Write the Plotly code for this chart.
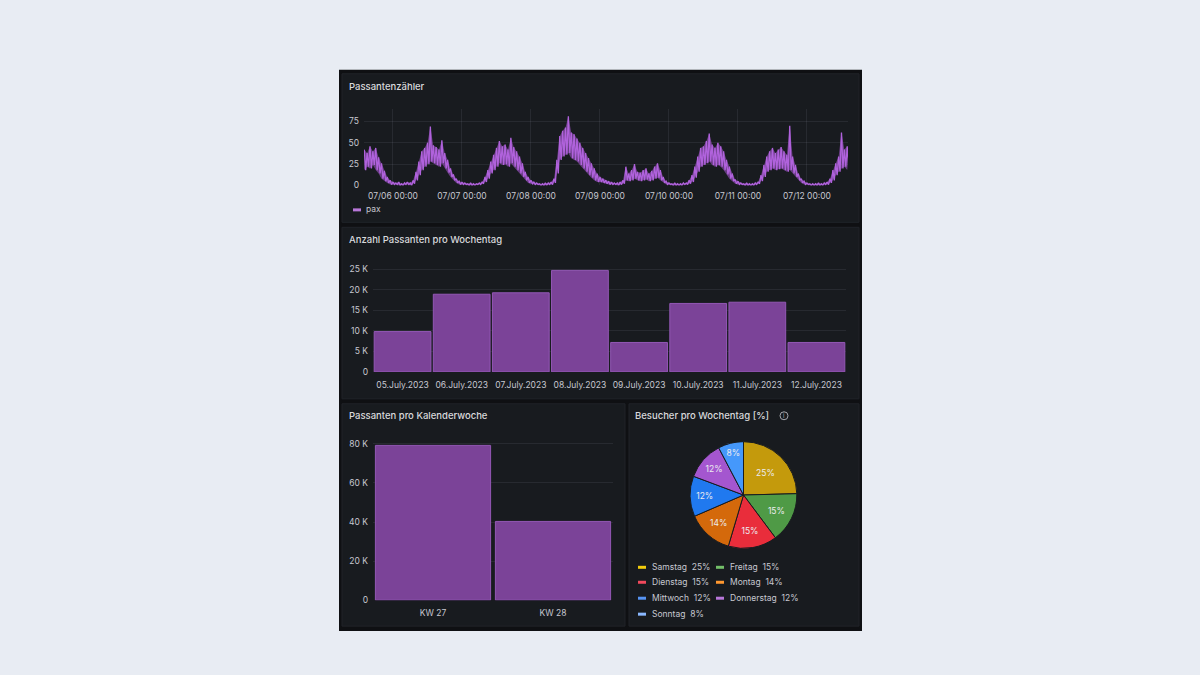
import plotly.graph_objects as go
import pandas as pd

# %%
# Passantenzähler - hourly upper / lower envelope (pax)
hi_0705 = [42, 38, 46, 40, 44, 33, 26, 17, 10, 6]
lo_0705 = [18, 22, 20, 24, 18, 14, 8, 5, 3, 1]
hi_0706 = [4, 3, 4, 2, 3, 4, 3, 6, 16, 28, 40, 44, 50, 69, 47, 45, 42, 53, 38, 30, 20, 13, 8, 5]
lo_0706 = [1, 1, 0, 0, 1, 1, 0, 2, 6, 12, 18, 22, 25, 28, 26, 24, 22, 26, 20, 15, 10, 6, 3, 1]
hi_0707 = [4, 3, 2, 3, 2, 2, 3, 4, 10, 18, 28, 36, 44, 52, 46, 48, 42, 56, 45, 40, 34, 26, 16, 10]
lo_0707 = [1, 1, 0, 0, 0, 1, 1, 2, 4, 8, 14, 18, 22, 26, 24, 25, 22, 26, 22, 18, 14, 10, 6, 3]
hi_0708 = [6, 4, 3, 2, 2, 3, 3, 4, 8, 30, 58, 64, 68, 81, 62, 60, 55, 50, 44, 38, 32, 26, 20, 14]
lo_0708 = [2, 1, 1, 0, 0, 0, 1, 1, 3, 14, 30, 34, 36, 38, 32, 30, 28, 24, 20, 16, 12, 9, 6, 4]
hi_0709 = [10, 8, 6, 5, 4, 3, 3, 4, 6, 22, 14, 18, 25, 16, 15, 18, 20, 14, 17, 22, 26, 18, 10, 5]
lo_0709 = [4, 3, 2, 1, 1, 1, 0, 1, 2, 6, 5, 6, 8, 6, 5, 6, 7, 5, 6, 8, 9, 6, 3, 1]
hi_0710 = [3, 2, 3, 2, 2, 3, 3, 6, 12, 22, 34, 44, 46, 52, 61, 48, 44, 50, 46, 40, 30, 22, 14, 7]
lo_0710 = [1, 0, 0, 0, 0, 1, 1, 2, 4, 9, 16, 22, 24, 26, 28, 24, 22, 24, 22, 18, 13, 8, 5, 2]
hi_0711 = [5, 3, 2, 3, 2, 2, 3, 4, 12, 24, 34, 40, 44, 38, 42, 45, 40, 36, 70, 34, 24, 14, 8, 5]
lo_0711 = [1, 1, 0, 0, 0, 0, 1, 2, 5, 10, 16, 18, 20, 18, 19, 20, 18, 16, 18, 14, 10, 6, 3, 1]
hi_0712 = [3, 2, 2, 2, 3, 2, 3, 4, 8, 18, 26, 34, 62, 42, 46]
lo_0712 = [1, 0, 0, 0, 0, 0, 1, 1, 3, 6, 12, 16, 20, 22, 18]
ts_start = '2023-07-05 14:00'

# Anzahl Passanten pro Wochentag
day_labels = ['05.July.2023', '06.July.2023', '07.July.2023', '08.July.2023',
              '09.July.2023', '10.July.2023', '11.July.2023', '12.July.2023']
day_counts = [9840, 18950, 19300, 24760, 7180, 16700, 17000, 7180]
day_ticks = [0, 5000, 10000, 15000, 20000, 25000]
day_ticktext = ['0', '5 K', '10 K', '15 K', '20 K', '25 K']

# Passanten pro Kalenderwoche
kw_labels = ['KW 27', 'KW 28']
kw_counts = [79200, 40300]
kw_ticks = [0, 20000, 40000, 60000, 80000]
kw_ticktext = ['0', '20 K', '40 K', '60 K', '80 K']

# Besucher pro Wochentag [%]
pie_labels = ['Samstag', 'Freitag', 'Dienstag', 'Montag', 'Mittwoch', 'Donnerstag', 'Sonntag']
pie_values = [24.6, 15.2, 14.8, 13.9, 12.2, 11.6, 7.7]
pie_colors = ['#c49a0c', '#4f9a46', '#e92d3b', '#d4690b', '#2079ef', '#a456cf', '#4598fb']
legend_colors = ['#f2cc0c', '#73bf69', '#f2495c', '#ff9830', '#5794f2', '#b877d9', '#8ab8ff']

# %%
W, H = 1200, 675
H_EFF = 670  # screenshot comes out slightly squashed vertically, compensate
PAGE_BG = '#e8ecf3'
DASH_BG = '#0f1013'
PANEL_BG = '#181b1f'
GRID = 'rgba(204,204,220,0.09)'
TXT = '#c7c8d1'
TITLE = '#d8d9dc'
PURPLE_BAR = '#7b4398'
FONT = 'Inter'


def px(x):
    return x / W


def py(y):
    return 1 - y / H_EFF


hi = hi_0705 + hi_0706 + hi_0707 + hi_0708 + hi_0709 + hi_0710 + hi_0711 + hi_0712
lo = lo_0705 + lo_0706 + lo_0707 + lo_0708 + lo_0709 + lo_0710 + lo_0711 + lo_0712
hours = pd.date_range(ts_start, periods=len(hi), freq='h')
# zigzag: envelope top at the full hour, bottom at half past
ts_x, ts_y = [], []
for t, a, b in zip(hours, hi, lo):
    ts_x += [t, t + pd.Timedelta(minutes=30)]
    ts_y += [a, b]

fig = go.Figure()

# soft band between the envelopes, then the raw zigzag on top
fig.add_trace(go.Scatter(x=hours, y=lo, mode='lines', line=dict(width=0),
                         xaxis='x', yaxis='y', showlegend=False, hoverinfo='skip'))
fig.add_trace(go.Scatter(x=hours, y=hi, mode='lines', line=dict(width=0),
                         fill='tonexty', fillcolor='rgba(168,88,210,0.55)',
                         xaxis='x', yaxis='y', showlegend=False, hoverinfo='skip'))
fig.add_trace(go.Scatter(x=ts_x, y=ts_y, mode='lines', name='pax',
                         line=dict(color='#b062dc', width=1.3),
                         xaxis='x', yaxis='y', showlegend=False))

fig.add_trace(go.Bar(x=day_labels, y=day_counts, xaxis='x2', yaxis='y2',
                     marker=dict(color=PURPLE_BAR, line=dict(color='#9358b5', width=1)),
                     showlegend=False))

fig.add_trace(go.Bar(x=kw_labels, y=kw_counts, xaxis='x3', yaxis='y3',
                     marker=dict(color=PURPLE_BAR, line=dict(color='#9358b5', width=1)),
                     showlegend=False))

fig.add_trace(go.Pie(labels=pie_labels, values=pie_values, sort=False,
                     direction='clockwise', rotation=0,
                     marker=dict(colors=pie_colors, line=dict(color=PANEL_BG, width=1)),
                     texttemplate='%{percent:.0%}', textposition='inside',
                     insidetextorientation='horizontal',
                     textfont=dict(family=FONT, size=8.5, color='#ececf0'),
                     domain=dict(x=[px(690), px(797)], y=[py(548), py(441)]),
                     showlegend=False))

axis_font = dict(family=FONT, size=8.5, color=TXT)

fig.update_layout(
    width=W, height=H,
    margin=dict(l=0, r=0, t=0, b=0),
    paper_bgcolor=PAGE_BG,
    plot_bgcolor='rgba(0,0,0,0)',
    font=dict(family=FONT, color=TXT),
    bargap=0.04,
    xaxis=dict(domain=[px(364), px(848)], type='date',
               range=['2023-07-05 13:55', '2023-07-12 14:16'],
               tickformat='%m/%d %H:%M', dtick=86400000, tick0='2023-07-06',
               showgrid=True, gridcolor=GRID, zeroline=False, showline=False,
               tickfont=axis_font, ticklabelstandoff=4, anchor='y'),
    yaxis=dict(domain=[py(184), py(107)], range=[0, 90],
               tickvals=[0, 25, 50, 75], showgrid=True, gridcolor=GRID,
               zeroline=False, tickfont=axis_font, ticklabelstandoff=4, anchor='x'),
    xaxis2=dict(domain=[px(373), px(846)], type='category',
                showgrid=False, zeroline=False, tickfont=axis_font,
                ticklabelstandoff=7, anchor='y2'),
    yaxis2=dict(domain=[py(371), py(260)], range=[0, 27000],
                tickvals=day_ticks, ticktext=day_ticktext, showgrid=True,
                gridcolor=GRID, zeroline=False, tickfont=axis_font,
                ticklabelstandoff=4, anchor='x2'),
    xaxis3=dict(domain=[px(373), px(613)], type='category',
                showgrid=False, zeroline=False, tickfont=axis_font,
                ticklabelstandoff=6, anchor='y3'),
    yaxis3=dict(domain=[py(600), py(440)], range=[0, 81600],
                tickvals=kw_ticks, ticktext=kw_ticktext, showgrid=True,
                gridcolor=GRID, zeroline=False, tickfont=axis_font,
                ticklabelstandoff=4, anchor='x3'),
)

# dashboard frame and panels
shapes = [dict(type='rect', xref='paper', yref='paper', layer='below',
               x0=px(339), x1=px(862), y0=py(631), y1=py(68),
               fillcolor=DASH_BG, line=dict(width=0))]
panels = [(342, 72, 859, 221), (342, 226, 859, 398), (342, 403, 625, 626), (629, 403, 859, 626)]
for x0, y0, x1, y1 in panels:
    shapes.append(dict(type='rect', xref='paper', yref='paper', layer='below',
                       x0=px(x0), x1=px(x1), y0=py(y1), y1=py(y0),
                       fillcolor=PANEL_BG, line=dict(color='#202329', width=1)))

# info icon next to pie title
shapes.append(dict(type='circle', xref='paper', yref='paper',
                   x0=px(780), x1=px(788), y0=py(419), y1=py(411),
                   line=dict(color='#a4a6ad', width=1)))

annotations = []
titles = [('Passantenzähler', 347, 85), ('Anzahl Passanten pro Wochentag', 347, 238),
          ('Passanten pro Kalenderwoche', 347, 415), ('Besucher pro Wochentag [%]', 633, 415)]
for t, x, y in titles:
    annotations.append(dict(text=t, x=px(x), y=py(y), xref='paper', yref='paper',
                            xanchor='left', yanchor='middle', showarrow=False,
                            font=dict(family=FONT, size=9.5, color=TITLE, weight=500)))
annotations.append(dict(text='i', x=px(784), y=py(415), xref='paper', yref='paper',
                        showarrow=False, font=dict(family=FONT, size=6, color='#a4a6ad')))

# legend "pax"
shapes.append(dict(type='line', xref='paper', yref='paper',
                   x0=px(353), x1=px(361), y0=py(208.5), y1=py(208.5),
                   line=dict(color='#b877d9', width=3)))
annotations.append(dict(text='pax', x=px(364), y=py(208), xref='paper', yref='paper',
                        xanchor='left', yanchor='middle', showarrow=False,
                        font=dict(family=FONT, size=8.5, color=TXT)))

# pie legend, two columns
total = sum(pie_values)
leg_pos = [(638, 567), (716, 567), (638, 582), (716, 582), (638, 598), (716, 598), (638, 614)]
for (x, y), lab, val, col in zip(leg_pos, pie_labels, pie_values, legend_colors):
    shapes.append(dict(type='line', xref='paper', yref='paper',
                       x0=px(x), x1=px(x + 8), y0=py(y), y1=py(y),
                       line=dict(color=col, width=3)))
    annotations.append(dict(text=f'{lab}\u00a0 {round(100 * val / total)}%',
                            x=px(x + 12), y=py(y), xref='paper', yref='paper',
                            xanchor='left', yanchor='middle', showarrow=False,
                            font=dict(family=FONT, size=8.5, color=TXT)))

fig.update_layout(shapes=shapes, annotations=annotations)

# pin the page to exactly the figure size
page_js = """
var gd = document.getElementById('{plot_id}');
var s = [document.documentElement.style, document.body.style, gd.parentElement.style];
s.forEach(function(st){st.margin='0'; st.padding='0'; st.height='675px';
    st.overflow='hidden'; st.lineHeight='0'; st.fontSize='0';});
document.body.style.background='#e8ecf3';
"""
fig.write_html('out.html', config={'displayModeBar': False}, post_script=page_js)
